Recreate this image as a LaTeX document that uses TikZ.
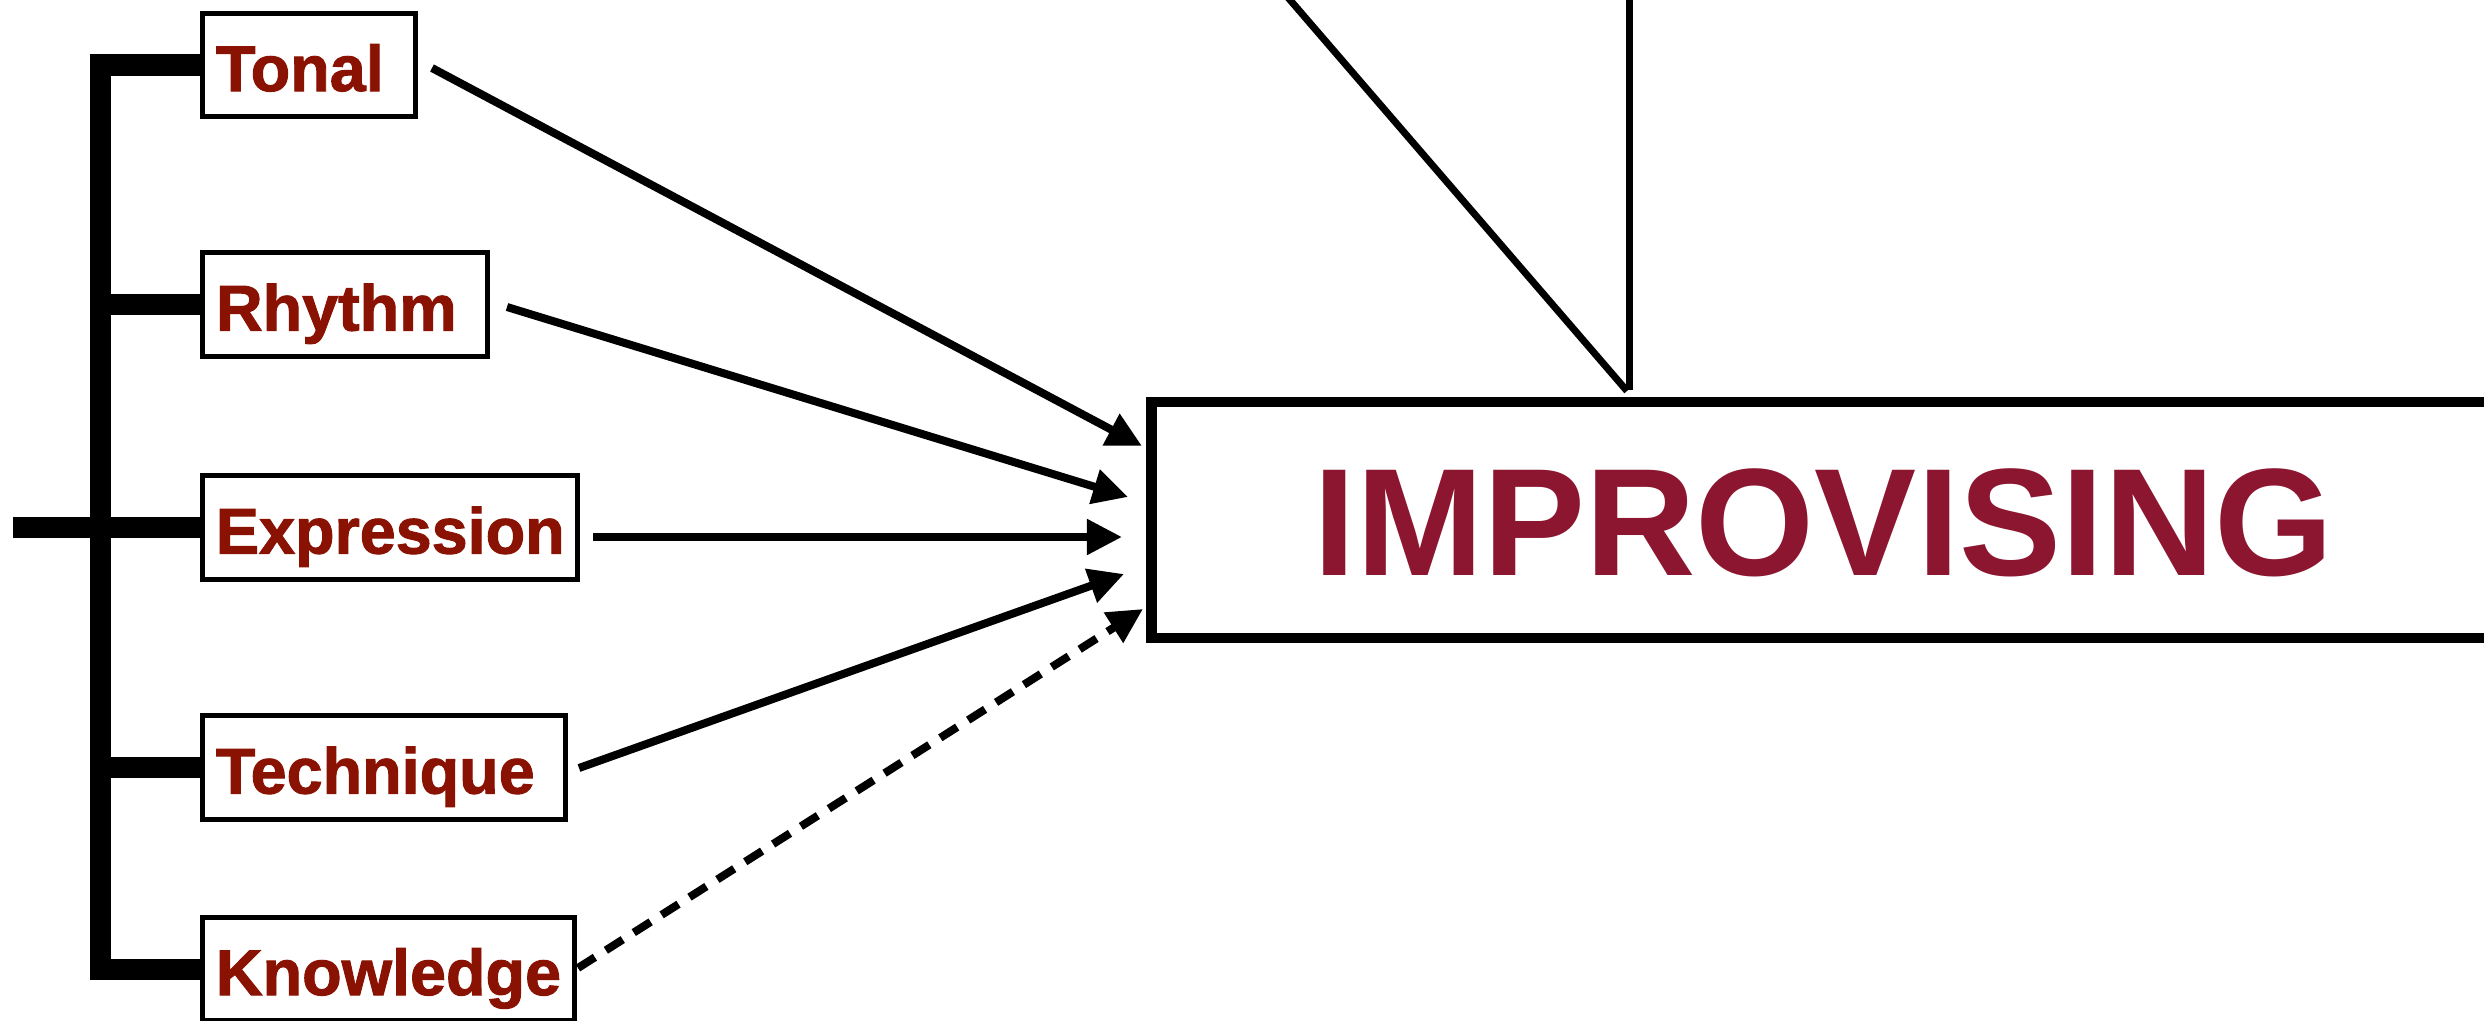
\documentclass[tikz,border=0pt]{standalone}
\usepackage{fontspec}
\setmainfont{Liberation Sans}
\newfontfamily\lblfont[FakeBold=1.5]{Liberation Sans Bold}
\usetikzlibrary{arrows.meta}
\definecolor{lblred}{RGB}{138,18,2}
\definecolor{imred}{RGB}{140,21,47}
\begin{document}
\begin{tikzpicture}[x=0.01cm, y=-0.01cm,
  catbox/.style={draw=black, line width=0.05cm, rectangle, inner xsep=0.135cm, inner ysep=0pt,
    text height=0.52cm, text depth=0pt, font=\fontsize{18.4pt}{20pt}\lblfont, text=lblred},
  tree/.style={line width=0.21cm},
  conn/.style={line width=0.08cm, -{Triangle[length=0.35cm, width=0.34cm]}},
  dashconn/.style={conn, dash pattern=on 0.2cm off 0.13cm},
  thinline/.style={line width=0.07cm},
  mainbox/.style={draw=black, line width=0.105cm, rectangle, inner sep=0pt, text height=1.10cm, text depth=0pt,
    font=\fontsize{43.5pt}{46pt}\selectfont\bfseries, text=imred}]

\useasboundingbox (0,0) rectangle (2484,1021);
\clip (0,0) rectangle (2484,1021);

% category boxes
\node[catbox, minimum width=2.13cm, minimum height=1.03cm] (tonal) at (309,65) {\makebox[1.86cm][l]{Tonal}};
\node[catbox, minimum width=2.85cm, minimum height=1.04cm] (rhythm) at (345,304.5) {\makebox[2.58cm][l]{Rhythm}};
\node[catbox, minimum width=3.75cm, minimum height=1.04cm] (expr) at (390,527.5) {\makebox[3.48cm][l]{Expression}};
\node[catbox, minimum width=3.63cm, minimum height=1.04cm] (tech) at (384,767.5) {\makebox[3.36cm][l]{Technique}};
\node[catbox, minimum width=3.72cm, minimum height=1.03cm] (know) at (388.5,969) {\makebox[3.45cm][l]{Knowledge}};

% main box
\node[mainbox, minimum width=13.43cm, minimum height=2.36cm] (imp) at (1823.5,520) {IMPROVISING};

% tree
\coordinate (bar) at (100.5,0);
\coordinate (stemL) at (13,527.5);
\draw[tree] (tonal.west) -- (tonal.west -| bar) -- (know.west -| bar) -- (know.west);
\draw[tree] (rhythm.west) -- (rhythm.west -| bar);
\draw[tree] (tech.west) -- (tech.west -| bar);
\draw[tree] (stemL) -- (expr.west);

% arrows
\coordinate (tonS) at (432,68);   \coordinate (tonE) at (1142,446);
\coordinate (rhyS) at (507,307);  \coordinate (rhyE) at (1128,497);
\coordinate (expS) at (593,537);  \coordinate (expE) at (1122,537);
\coordinate (tecS) at (579,768);  \coordinate (tecE) at (1124,574);
\coordinate (knoS) at (578,968);  \coordinate (knoE) at (1143,609);
\draw[conn] (tonS) -- (tonE);
\draw[conn] (rhyS) -- (rhyE);
\draw[conn] (expS) -- (expE);
\draw[conn] (tecS) -- (tecE);
\draw[dashconn] (knoS) -- (knoE);

% lines from above
\coordinate (dA) at (1247,-50);   \coordinate (dB) at (1627,391);
\coordinate (vA) at (1629.5,-50); \coordinate (vB) at (1629.5,390);
\draw[thinline] (dA) -- (dB);
\draw[thinline] (vA) -- (vB);
\end{tikzpicture}
\end{document}
